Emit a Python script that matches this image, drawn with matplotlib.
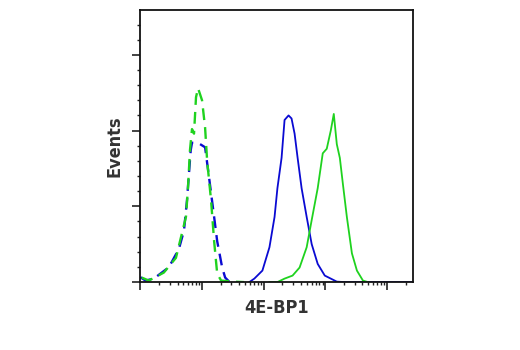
import matplotlib
matplotlib.use("Agg")
import matplotlib.pyplot as plt
from matplotlib.ticker import MultipleLocator, LogLocator, NullFormatter

plt.rcParams['font.family'] = ['DejaVu Sans']

# control (dashed) and treated (solid) histograms, x = fluorescence intensity
blue_dash_x = [1.0, 1.21, 1.65, 2.9, 4.22, 5.09, 5.7, 6.14, 6.55, 6.87, 8.93, 11.2, 13.0, 15.7, 17.6, 21.2, 23.7, 27.5]
blue_dash_y = [3.2, 1, 2.3, 9.8, 22, 34, 54, 72, 87, 92, 91.5, 89, 69, 43, 27, 9.6, 3, 0.3]

green_dash_x = [1.05, 1.37, 2.4, 3.77, 5.48, 5.91, 6.37, 6.87, 7.41, 7.98, 8.61, 10.0, 11.2, 12.1, 14.0, 15.7, 17.6, 20.4, 33, 48]
green_dash_y = [3, 1, 6.3, 16, 43, 62, 87, 101, 98, 122, 128, 120, 102, 80, 54, 27, 5.6, 1, 0.3, 0]

blue_x = [58.5, 70.5, 95.3, 124, 150, 167, 195, 218, 253, 283, 317, 355, 412, 498, 601, 752, 979, 1535, 2075, 26000]
blue_y = [0, 2.3, 7.6, 23, 43, 62, 82, 107, 110, 108, 98, 82, 62, 43, 25, 12, 4.3, 0.3, 0, 0]

green_x = [124, 167, 218, 294, 382, 498, 601, 752, 908, 1054, 1225, 1371, 1535, 1718, 1923, 2234, 2698, 3253, 4074, 4920]
green_y = [0, 0, 2.3, 4.3, 9.6, 23, 41, 62, 85, 88, 100, 111, 91, 82, 65, 43, 19, 7.6, 1, 0]

blue = '#0a0ad2'
green = '#1fd21f'

fig = plt.figure(figsize=(5.2, 3.5), dpi=100)
ax = fig.add_axes([0.270, 0.194, 0.524, 0.777])

ax.plot(blue_x, blue_y, color=blue, lw=1.3)
ax.plot(green_x, green_y, color=green, lw=1.3)
ax.plot(blue_dash_x, blue_dash_y, color=blue, lw=1.7, dashes=(5, 3))
ax.plot(green_dash_x, green_dash_y, color=green, lw=1.7, dashes=(5, 3))

ax.set_xscale('log')
ax.set_xlim(1, 10 ** 4.42)
ax.set_ylim(0, 179.5)

ax.yaxis.set_major_locator(MultipleLocator(50))
ax.yaxis.set_minor_locator(MultipleLocator(10))
ax.xaxis.set_major_locator(LogLocator(base=10))
ax.xaxis.set_minor_locator(LogLocator(base=10, subs=range(2, 10)))
ax.xaxis.set_major_formatter(NullFormatter())
ax.xaxis.set_minor_formatter(NullFormatter())
ax.yaxis.set_major_formatter(NullFormatter())

ax.tick_params(which='major', length=5.5, width=1.2, direction='out', color='#222222')
ax.tick_params(which='minor', length=2.5, width=1.0, direction='out', color='#222222')
for s in ax.spines.values():
    s.set_linewidth(1.3)
    s.set_color('#111111')

ax.set_xlabel('4E-BP1', fontsize=13, fontweight='bold', fontstretch='condensed',
              color='#333333', labelpad=3)
ax.set_ylabel('Events', fontsize=13, fontweight='bold', fontstretch='condensed',
              color='#333333', labelpad=3)

fig.savefig('out.png', dpi=100)
